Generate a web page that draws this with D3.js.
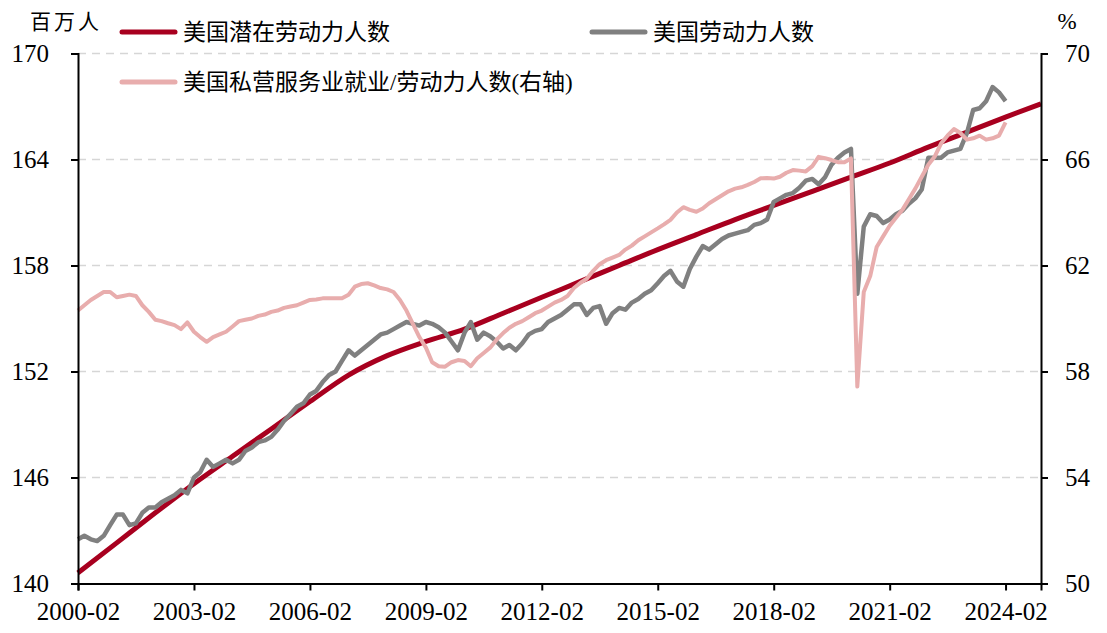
<!DOCTYPE html>
<html>
<head>
<meta charset="utf-8">
<script src="https://cdn.jsdelivr.net/npm/d3@7"></script>
<style>
  body { margin: 0; background: #fff; }
  svg { display: block; }
  .num { font-family: "Liberation Serif", "Times New Roman", serif; fill: #000; }
  .cn { font-family: "Liberation Serif", "Noto Sans CJK SC", serif; fill: #000; }
</style>
</head>
<body>
<div id="chart"></div>
<script>
// bimonthly from 2000-02 (Feb, Apr, Jun, Aug, Oct, Dec per row), millions
var laborForce = [
	142.5, 142.7, 142.5, 142.4, 142.7, 143.3,
	143.9, 143.9, 143.3, 143.4, 144.0, 144.3,
	144.3, 144.6, 144.8, 145.0, 145.3, 145.1,
	146.0, 146.3, 147.0, 146.6, 146.8, 147.0,
	146.8, 147.0, 147.5, 147.7, 148.0, 148.1,
	148.3, 148.7, 149.2, 149.6, 150.0, 150.2,
	150.7, 150.9, 151.4, 151.8, 152.0, 152.6,
	153.2, 152.9, 153.2, 153.5, 153.8, 154.1,
	154.2, 154.4, 154.6, 154.8, 154.7, 154.6,
	154.8, 154.7, 154.5, 154.2, 153.7, 153.2,
	154.2, 154.8, 153.8, 154.2, 154.0, 153.7,
	153.3, 153.5, 153.2, 153.6, 154.1, 154.3,
	154.4, 154.8, 155.0, 155.2, 155.5, 155.8,
	155.8, 155.2, 155.6, 155.7, 154.7, 155.3,
	155.6, 155.5, 155.9, 156.1, 156.4, 156.6,
	157.0, 157.4, 157.7, 157.1, 156.8, 157.8,
	158.5, 159.1, 158.9, 159.2, 159.5, 159.7,
	159.8, 159.9, 160.0, 160.3, 160.4, 160.6,
	161.6, 161.8, 162.0, 162.1, 162.4, 162.8,
	162.9, 162.6, 163.0, 163.7, 164.1, 164.4,
	164.6, 156.4, 160.2, 160.9, 160.8, 160.4,
	160.6, 160.9, 161.1, 161.5, 161.8, 162.3,
	164.1, 164.1, 164.1, 164.4, 164.5, 164.6,
	165.5, 166.8, 166.9, 167.3, 168.1, 167.8,
	167.3
];

// private service employment / labor force, %, same dates
var serviceShare = [
	60.3, 60.5, 60.7, 60.85, 61.0, 61.0,
	60.8, 60.85, 60.9, 60.85, 60.5, 60.25,
	59.95, 59.9, 59.82, 59.75, 59.6, 59.85,
	59.5, 59.3, 59.12, 59.3, 59.4, 59.5,
	59.7, 59.9, 59.95, 60.0, 60.1, 60.15,
	60.25, 60.3, 60.4, 60.45, 60.5, 60.6,
	60.7, 60.72, 60.76, 60.76, 60.76, 60.76,
	60.9, 61.2, 61.3, 61.33, 61.25, 61.15,
	61.1, 61.0, 60.7, 60.3, 59.8, 59.3,
	58.9, 58.35, 58.2, 58.18, 58.35, 58.43,
	58.4, 58.2, 58.5, 58.7, 58.9, 59.2,
	59.45, 59.65, 59.8, 59.9, 60.05, 60.2,
	60.3, 60.45, 60.6, 60.7, 60.85, 61.15,
	61.35, 61.5, 61.8, 62.05, 62.2, 62.3,
	62.4, 62.6, 62.75, 62.95, 63.1, 63.25,
	63.4, 63.55, 63.72, 64.0, 64.2, 64.1,
	64.03, 64.15, 64.35, 64.5, 64.65, 64.8,
	64.9, 64.95, 65.04, 65.15, 65.29, 65.3,
	65.28, 65.35, 65.5, 65.6, 65.58, 65.55,
	65.75, 66.1, 66.05, 65.98, 65.9, 65.9,
	66.04, 57.43, 61.0, 61.6, 62.7, 63.1,
	63.5, 63.8, 64.1, 64.5, 64.9, 65.35,
	65.8, 66.1, 66.6, 66.9, 67.15, 67.0,
	66.75, 66.8, 66.9, 66.75, 66.8, 66.9,
	67.4
];

// potential labor force, millions
var potentialDates = [
	'2000-02', '2001-02', '2002-02', '2003-02', '2004-02', '2005-02', '2006-02',
	'2007-02', '2008-02', '2009-02', '2010-02', '2011-02', '2012-02', '2013-02',
	'2014-02', '2015-02', '2016-02', '2017-02', '2018-02', '2019-02', '2020-02',
	'2021-02', '2022-02', '2023-02', '2024-02', '2025-01'
];
var potentialValues = [
	140.6, 142.3, 144.0, 145.65, 147.2, 148.75, 150.3,
	151.8, 152.9, 153.7, 154.4, 155.3, 156.2, 157.1,
	158.0, 158.9, 159.75, 160.6, 161.4, 162.2, 163.0,
	163.8, 164.7, 165.55, 166.4, 167.15
];

var xTicks = ['2000-02', '2003-02', '2006-02', '2009-02', '2012-02', '2015-02', '2018-02', '2021-02', '2024-02'];
var leftTicks = [140, 146, 152, 158, 164, 170];
var rightTicks = [50, 54, 58, 62, 66, 70];

var colors = {
	potential: '#a8001f',
	labor: '#808080',
	share: '#e8adad'
};

var sizes = { width: 1107, height: 633 };
var plot = { left: 78, right: 1041, top: 53.5, bottom: 583.5 };

var parse = d3.timeParse( '%Y-%m' );
var fmt = d3.timeFormat( '%Y-%m' );
var start = parse( '2000-02' );

var labor = laborForce.map( function ( v, i ) { return { date: d3.timeMonth.offset( start, 2 * i ), value: v }; } );
var share = serviceShare.map( function ( v, i ) { return { date: d3.timeMonth.offset( start, 2 * i ), value: v }; } );
var potential = potentialDates.map( function ( d, i ) { return { date: parse( d ), value: potentialValues[i] }; } );

var scales = {};
scales.x = d3.scaleTime()
	.domain( [ parse( '2000-02' ), parse( '2025-01' ) ] )
	.range( [ plot.left, plot.right ] );
scales.yl = d3.scaleLinear().domain( [ 140, 170 ] ).range( [ plot.bottom, plot.top ] );
scales.yr = d3.scaleLinear().domain( [ 50, 70 ] ).range( [ plot.bottom, plot.top ] );

var svg = d3.select( '#chart' ).append( 'svg' )
	.attr( 'width', sizes.width )
	.attr( 'height', sizes.height );

svg.append( 'rect' ).attr( 'width', sizes.width ).attr( 'height', sizes.height ).attr( 'fill', '#fff' );

// gridlines
svg.append( 'g' ).selectAll( 'line' )
	.data( leftTicks.slice( 1 ) )
	.enter()
	.append( 'line' )
	.attr( 'x1', plot.left )
	.attr( 'x2', plot.right )
	.attr( 'y1', function ( d ) { return scales.yl( d ); } )
	.attr( 'y2', function ( d ) { return scales.yl( d ); } )
	.style( 'stroke', '#d6d6d6' )
	.style( 'stroke-width', 1.5 )
	.style( 'stroke-dasharray', '8,6' );

// series
var lineL = d3.line()
	.x( function ( d ) { return scales.x( d.date ); } )
	.y( function ( d ) { return scales.yl( d.value ); } );
var lineR = d3.line()
	.x( function ( d ) { return scales.x( d.date ); } )
	.y( function ( d ) { return scales.yr( d.value ); } );

svg.append( 'path' )
	.datum( potential )
	.attr( 'd', lineL.curve( d3.curveMonotoneX ) )
	.style( 'fill', 'none' )
	.style( 'stroke', colors.potential )
	.style( 'stroke-width', 5 );

lineL = d3.line()
	.x( function ( d ) { return scales.x( d.date ); } )
	.y( function ( d ) { return scales.yl( d.value ); } );

svg.append( 'path' )
	.datum( labor )
	.attr( 'd', lineL )
	.style( 'fill', 'none' )
	.style( 'stroke', colors.labor )
	.style( 'stroke-width', 4.5 )
	.style( 'stroke-linejoin', 'round' );

svg.append( 'path' )
	.datum( share )
	.attr( 'd', lineR )
	.style( 'fill', 'none' )
	.style( 'stroke', colors.share )
	.style( 'stroke-width', 4 )
	.style( 'stroke-linejoin', 'round' );

// axes
var axes = {};
axes.x = d3.axisBottom( scales.x )
	.tickValues( xTicks.map( parse ) )
	.tickFormat( fmt )
	.tickSize( 7 )
	.tickPadding( 9 );
axes.yl = d3.axisLeft( scales.yl ).tickValues( leftTicks ).tickSize( 7 ).tickPadding( 22 );
axes.yr = d3.axisRight( scales.yr ).tickValues( rightTicks ).tickSize( 7 ).tickPadding( 17 );

var gx = svg.append( 'g' ).attr( 'transform', 'translate(0,' + plot.bottom + ')' ).call( axes.x );
var gl = svg.append( 'g' ).attr( 'transform', 'translate(' + plot.left + ',0)' ).call( axes.yl );
var gr = svg.append( 'g' ).attr( 'transform', 'translate(' + plot.right + ',0)' ).call( axes.yr );

[ gx, gl, gr ].forEach( function ( g ) {
	g.select( '.domain' ).style( 'stroke', '#000' ).style( 'stroke-width', 2 );
	g.selectAll( '.tick line' ).style( 'stroke', '#000' ).style( 'stroke-width', 2 );
	g.selectAll( '.tick text' )
		.attr( 'class', 'num' )
		.style( 'font-size', '25px' );
} );
gx.selectAll( '.tick text' ).attr( 'dy', '0.8em' );

// unit labels
svg.append( 'text' )
	.attr( 'class', 'cn' )
	.attr( 'x', 30 )
	.attr( 'y', 29 )
	.style( 'font-size', '21px' )
	.style( 'letter-spacing', '3px' )
	.text( '百万人' );

svg.append( 'text' )
	.attr( 'class', 'num' )
	.attr( 'x', 1067 )
	.attr( 'y', 29 )
	.attr( 'text-anchor', 'middle' )
	.style( 'font-size', '23px' )
	.text( '%' );

// legend
var legend = [
	{ name: '美国潜在劳动力人数', color: colors.potential, x: 122, y: 32, w: 5 },
	{ name: '美国劳动力人数', color: colors.labor, x: 592, y: 32, w: 5 },
	{ name: '美国私营服务业就业/劳动力人数(右轴)', color: colors.share, x: 122, y: 82, w: 5 }
];

var lg = svg.append( 'g' ).selectAll( 'g' )
	.data( legend )
	.enter()
	.append( 'g' )
	.attr( 'transform', function ( d ) { return 'translate(' + d.x + ',' + d.y + ')'; } );

lg.append( 'line' )
	.attr( 'x1', 0 )
	.attr( 'x2', 53 )
	.style( 'stroke', function ( d ) { return d.color; } )
	.style( 'stroke-width', function ( d ) { return d.w; } )
	.style( 'stroke-linecap', 'round' );

lg.append( 'text' )
	.attr( 'class', 'cn' )
	.attr( 'x', 61 )
	.attr( 'y', 0 )
	.attr( 'dy', '0.36em' )
	.style( 'font-size', '23px' )
	.text( function ( d ) { return d.name; } );
</script>
</body>
</html>
